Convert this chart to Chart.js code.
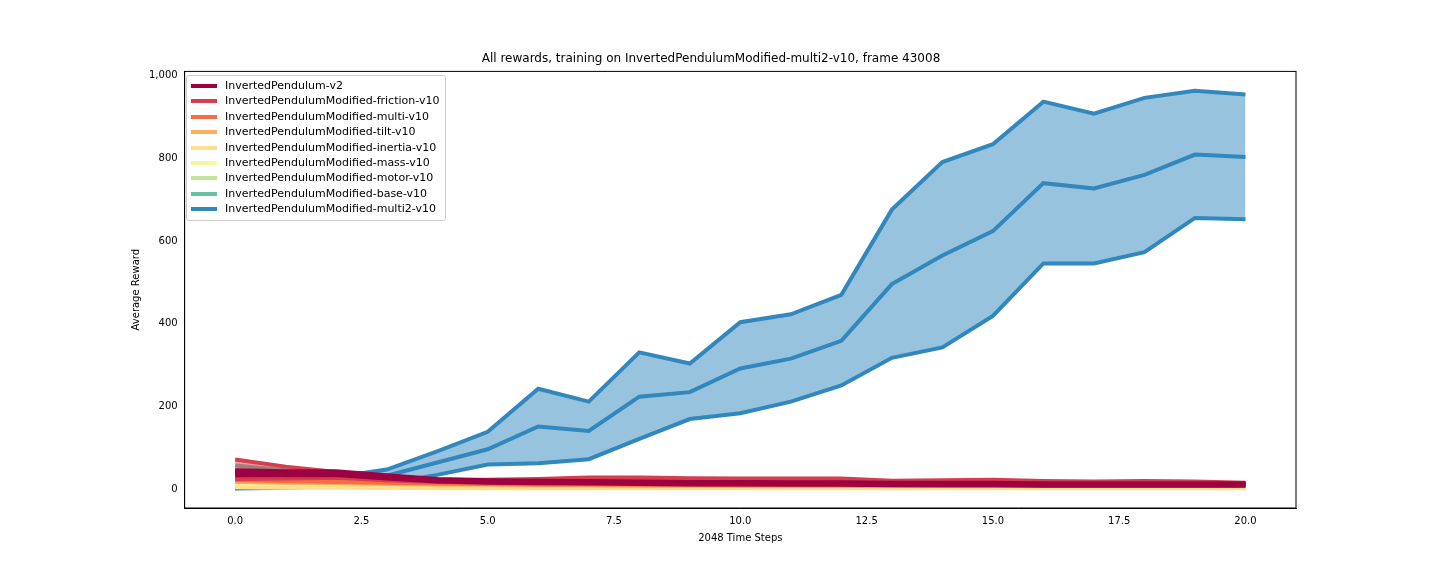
<!DOCTYPE html>
<html>
<head>
<meta charset="utf-8">
<script src="https://cdn.jsdelivr.net/npm/chart.js@4"></script>
<style>
  body { margin: 0; background: #fff; }
  #wrap { position: relative; width: 1440px; height: 576px; }
  #legend { position: absolute; left: 186px; top: 75px; border: 1px solid #ccc; border-radius: 3px;
    background: rgba(255,255,255,0.85); padding: 2px 6px 3px 4px; font: 11px "DejaVu Sans", sans-serif; }
  #legend div { height: 15.4px; line-height: 15.4px; white-space: nowrap; }
  #legend span { display: inline-block; width: 26px; height: 4px; vertical-align: middle; margin-right: 8px; }
</style>
</head>
<body>
<div id="wrap">
  <canvas id="chart" width="1440" height="576"></canvas>
  <div id="legend"></div>
</div>
<script>
const steps = [0,1,2,3,4,5,6,7,8,9,10,11,12,13,14,15,16,17,18,19,20];
const names = ['InvertedPendulum-v2', 'InvertedPendulumModified-friction-v10', 'InvertedPendulumModified-multi-v10',
  'InvertedPendulumModified-tilt-v10', 'InvertedPendulumModified-inertia-v10', 'InvertedPendulumModified-mass-v10',
  'InvertedPendulumModified-motor-v10', 'InvertedPendulumModified-base-v10', 'InvertedPendulumModified-multi2-v10'];
const colors = ['#9e0142', '#d53e4f', '#f46d43', '#fdae61', '#fee08b', '#f6f6a0', '#c2e59e', '#66c2a5', '#3288bd'];

// mean / upper / lower per series
const meanV2 = [40,39,40,30,22,19,18,17,16,15,15,14,14,13,13,13,12,12,12,12,12];
const upperV2 = [46,44,44,34,25,22,21,20,19,18,18,17,17,16,16,16,15,15,15,15,15];
const lowerV2 = [34,34,35,26,19,16,15,14,13,12,12,11,11,10,10,10,9,9,9,9,9];
const meanFriction = [40,38,36,26,21,21,23,27,27,25,24,24,24,19,20,21,18,17,18,17,14];
const upperFriction = [72,55,42,30,24,23,25,29,29,27,26,26,26,21,22,23,20,19,20,19,16];
const lowerFriction = [25,26,28,22,18,18,20,24,24,22,21,21,21,16,17,18,15,14,15,14,12];
const meanMulti = [22,20,18,16,14,13,12,12,11,11,10,10,10,10,9,9,9,9,9,9,9];
const meanTilt = [18,16,15,13,12,11,10,10,9,9,9,9,8,8,8,8,8,8,8,8,8];
const meanInertia = [5,4,4,4,3,3,3,3,3,3,3,3,3,3,3,3,3,3,3,3,3];
const meanMass = [12,11,10,9,8,8,7,7,7,7,7,7,6,6,6,6,6,6,6,6,6];
const meanMotor = [20,18,16,14,12,11,10,10,10,9,9,9,9,9,9,9,9,9,9,9,9];
const meanBase = [30,28,26,20,17,16,16,15,15,14,14,14,14,13,13,13,13,13,13,12,12];
const upperBase = [58,46,36,24,20,19,19,18,18,17,17,17,17,16,16,16,16,16,16,15,15];
const lowerBase = [8,10,12,14,12,11,11,10,10,10,10,10,10,9,9,9,9,9,9,9,9];
const meanMulti2 = [3,8,18,33,65,97,152,141,224,235,292,316,359,496,565,624,740,727,760,809,803];
const upperMulti2 = [5,15,30,48,92,139,243,212,331,304,404,423,470,676,791,834,937,908,946,963,954];
const lowerMulti2 = [2,4,8,15,35,60,63,73,122,170,184,212,251,318,343,419,546,546,573,656,653];

const series = [
  [meanV2, upperV2, lowerV2], [meanFriction, upperFriction, lowerFriction], [meanMulti], [meanTilt],
  [meanInertia], [meanMass], [meanMotor], [meanBase, upperBase, lowerBase], [meanMulti2, upperMulti2, lowerMulti2]
];

function pts(arr) { return steps.map((x, i) => ({x: x, y: arr[i]})); }
function alpha(hex, a) {
  const n = parseInt(hex.slice(1), 16);
  return `rgba(${n >> 16},${(n >> 8) & 255},${n & 255},${a})`;
}

const datasets = [];
series.forEach((s, k) => {
  const c = colors[k];
  datasets.push({ label: names[k], data: pts(s[0]), borderColor: c, borderWidth: 4, pointRadius: 0, fill: false, tension: 0 });
  if (s.length === 3) {
    const up = datasets.length;
    datasets.push({ label: '', data: pts(s[1]), borderColor: c, borderWidth: 4, pointRadius: 0, tension: 0,
      backgroundColor: alpha(c, 0.5), fill: { target: up + 1 } });
    datasets.push({ label: '', data: pts(s[2]), borderColor: c, borderWidth: 4, pointRadius: 0, tension: 0, fill: false });
  }
});

const legend = document.getElementById('legend');
names.forEach((n, k) => {
  const d = document.createElement('div');
  d.innerHTML = `<span style="background:${colors[k]}"></span>${n}`;
  legend.appendChild(d);
});

Chart.defaults.font.family = '"DejaVu Sans", sans-serif';
Chart.defaults.color = '#000';
new Chart(document.getElementById('chart'), {
  type: 'line',
  data: { datasets: datasets },
  options: {
    responsive: false,
    animation: false,
    layout: { padding: { left: 126, right: 144, top: 10, bottom: 30 } },
    plugins: {
      legend: { display: false },
      tooltip: { enabled: false },
      title: { display: true, text: 'All rewards, training on InvertedPendulumModified-multi2-v10, frame 43008',
        font: { size: 12, weight: 'normal' }, padding: { top: 42, bottom: 5 } }
    },
    scales: {
      x: {
        type: 'linear', min: -1, max: 21,
        afterBuildTicks: ax => { ax.ticks = [0,2.5,5,7.5,10,12.5,15,17.5,20].map(v => ({value: v})); },
        ticks: { font: { size: 10 }, maxRotation: 0, callback: v => v.toFixed(1) },
        grid: { display: false, drawTicks: true, tickLength: 4 },
        border: { color: '#000' },
        title: { display: true, text: '2048 Time Steps', font: { size: 10 }, padding: 2 }
      },
      y: {
        min: -45, max: 1010,
        afterBuildTicks: ax => { ax.ticks = [0,200,400,600,800,1000].map(v => ({value: v})); },
        ticks: { font: { size: 10 } },
        grid: { display: false, tickLength: 4 },
        border: { color: '#000' },
        title: { display: true, text: 'Average Reward', font: { size: 10 }, padding: 4 }
      }
    }
  },
  plugins: [{
    id: 'frame',
    afterDraw(chart) {
      const a = chart.chartArea, ctx = chart.ctx;
      ctx.save(); ctx.strokeStyle = '#000'; ctx.lineWidth = 1;
      ctx.strokeRect(a.left, a.top, a.right - a.left, a.bottom - a.top);
      ctx.restore();
    }
  }]
});
</script>
</body>
</html>
